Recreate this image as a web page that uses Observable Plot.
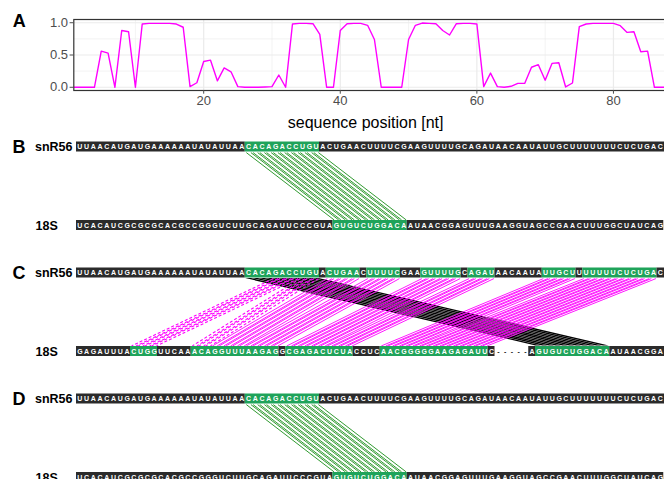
<!DOCTYPE html>
<html><head><meta charset="utf-8">
<script src="https://cdn.jsdelivr.net/npm/d3@7"></script>
<script src="https://cdn.jsdelivr.net/npm/@observablehq/plot@0.6"></script>
<style>
html,body{margin:0;padding:0;background:#fff;}
#wrap{width:664px;height:479px;overflow:hidden;position:relative;}
#wrap svg{display:block;max-width:none !important;}
</style></head><body><div id="wrap"></div>
<script>
// ---------- Panel A: reactivity profile (positions 1..88) ----------
const reactivity = [
  0, 0, 0, 0, 0.56, 0.53, 0, 0.88, 0.86, 0,            // 1-10
  0.98, 0.99, 0.99, 0.99, 0.99, 0.98, 0.93, 0.01, 0.07, 0.40, // 11-20
  0.42, 0.10, 0.30, 0.24, 0.01, 0, 0, 0, 0.005, 0.01,  // 21-30
  0.19, 0, 0.98, 0.99, 0.99, 0.985, 0.82, 0, 0, 0.88,  // 31-40
  0.985, 0.99, 0.99, 0.96, 0.74, 0, 0, 0, 0, 0.74,     // 41-50
  0.96, 0.995, 0.99, 0.985, 0.88, 0.81, 0.985, 0.99, 0.99, 0.98, // 51-60
  0.01, 0.22, 0.01, 0, 0.015, 0.06, 0.06, 0.31, 0.35, 0.11,     // 61-70
  0.37, 0.38, 0.005, 0.066, 0.94, 0.98, 0.99, 0.99, 0.99, 0.99, // 71-80
  0.955, 0.85, 0.86, 0.55, 0.56, 0, 0, 0                // 81-88
];
const xTicksA = [20, 40, 60, 80];
const xMinorA = [10, 30, 50, 70];
const yTicksA = [0, 0.5, 1];
const yMinorA = [0.25, 0.75];
const xTitleA = "sequence position [nt]";

// ---------- Sequences ----------
const seqSnR56 = "UUAACAUGAUGAAAAAAUAUAUUAACACAGACCUGUACUGAACUUUUCGAAGUUUUGCAGAUAACAAUAUUGCUUUUUUUCUCUGACU";
const seq18S_BD = "UCACAUCGCGCGCACGCCGGGUCUUGCAGAUUCCCGUAGUGUCUGGACAAUAACGGAGUUUGAAGGUAGCCGAACUUUGGCUAUCAG";
const seq18S_C  = "GAGAUUUACUGGUUCAAACAGGUUUAAGAGGCGAGACUCUACCUCAACGGGGGAAGAGAUUC-----AGUGUCUGGACAAUAACGGAG";
const rowNames = ["snR56", "18S"];

// helices: snR56 start, 18S start, length, kind
const helicesB = [
  {snr: 26, rrna: 39, len: 11, kind: "target"}
];
const helicesC = [
  {snr: 26, rrna: 69, len: 11, kind: "blocked"},
  {snr: 30, rrna: 9,  len: 4,  kind: "altDashed"},
  {snr: 34, rrna: 18, len: 3,  kind: "altDashed"},
  {snr: 38, rrna: 21, len: 5,  kind: "alt"},
  {snr: 44, rrna: 26, len: 5,  kind: "alt"},
  {snr: 52, rrna: 32, len: 6,  kind: "alt"},
  {snr: 59, rrna: 38, len: 4,  kind: "alt"},
  {snr: 70, rrna: 46, len: 5,  kind: "alt"},
  {snr: 76, rrna: 51, len: 11, kind: "alt"}
];
const helicesD = helicesB;

const FONT = "Liberation Sans, Arial, Helvetica, sans-serif";
const GREEN_BOX = "#1fa35a";
const DARK_BOX = "#2b2b2b";
const kindStroke = {target: "#1a8f1a", alt: "#ff00ff", altDashed: "#ff00ff", blocked: "#000"};
const CHAR_W = 6.75, SEQ_LEFT = 76, SVG_W = 690;

const wrap = document.getElementById("wrap");

// ---------- Panel A ----------
const dataA = reactivity.map((v, i) => ({pos: i + 1, v}));
const plotA = Plot.plot({
  width: SVG_W, height: 135,
  marginLeft: 73.3, marginRight: SVG_W - 671, marginTop: 19, marginBottom: 45,
  style: {fontFamily: FONT, background: "white"},
  x: {domain: [0.98, 88.5]},
  y: {domain: [-0.05, 1.05]},
  marks: [
    Plot.ruleX(xMinorA, {stroke: "#ebebeb", strokeWidth: 0.6}),
    Plot.ruleY(yMinorA, {stroke: "#ebebeb", strokeWidth: 0.6}),
    Plot.ruleX(xTicksA, {stroke: "#ebebeb", strokeWidth: 1.2}),
    Plot.ruleY(yTicksA, {stroke: "#ebebeb", strokeWidth: 1.2}),
    Plot.line(dataA, {x: "pos", y: "v", stroke: "#ff00ff", strokeWidth: 1.4}),
    Plot.frame({stroke: "#333333", strokeWidth: 1.2}),
    Plot.axisX(xTicksA, {tickSize: 3.7, tickPadding: 2, fontSize: 13, color: "#4d4d4d", label: null}),
    Plot.axisY(yTicksA, {tickSize: 3.7, tickPadding: 2, fontSize: 13, color: "#4d4d4d", label: null, tickFormat: d3.format(".1f")}),
    Plot.text([xTitleA], {frameAnchor: "bottom", dx: -7, dy: 37, fontSize: 16, fill: "black"}),
    Plot.text(["A"], {frameAnchor: "top-left", dx: -61, dy: -5, textAnchor: "start", fontSize: 18, fontWeight: "bold", fill: "black"})
  ]
});
wrap.appendChild(plotA);

// ---------- Sequence panels ----------
function seqPanel(letter, topSeq, botSeq, helices) {
  const half = 5 / 78.5;      // half box height in row units
  const gapY = 5.6 / 78.5;    // link end offset
  const ins = 0.16;           // inset of each outlined band (nt units)
  const insFill = 0.07;       // inset of each filled band
  const pairedTop = new Set(), pairedBot = new Set();
  for (const h of helices) for (let k = 0; k < h.len; k++) { pairedTop.add(h.snr + k); pairedBot.add(h.rrna + k); }
  const chars = [];
  const addRow = (seq, row, set) => {
    [...seq].forEach((ch, i) => chars.push({row, pos: i + 1, ch, paired: set.has(i + 1), gap: ch === "-"}));
  };
  addRow(topSeq, 0, pairedTop);
  addRow(botSeq, 1, pairedBot);
  const runs = [];
  for (const c of chars) {
    if (c.gap) continue;
    const last = runs[runs.length - 1];
    if (last && last.row === c.row && last.paired === c.paired && last.end === c.pos - 1) last.end = c.pos;
    else runs.push({row: c.row, start: c.pos, end: c.pos, paired: c.paired});
  }
  const links = [], polys = [];
  let id = 0;
  for (const h of helices) {
    for (let k = 0; k < h.len; k++) {
      const i = h.snr + k, j = h.rrna + k;
      id++;
      if (h.kind === "blocked") {
        polys.push({id, y: gapY, xa: i - 0.5 + insFill, xb: i + 0.5 - insFill});
        polys.push({id, y: 1 - gapY, xa: j - 0.5 + insFill, xb: j + 0.5 - insFill});
      } else {
        links.push({kind: h.kind, xa: i - 0.5 + ins, xb: j - 0.5 + ins});
        links.push({kind: h.kind, xa: i + 0.5 - ins, xb: j + 0.5 - ins});
      }
    }
  }
  const solid = links.filter(d => d.kind !== "altDashed");
  const dashed = links.filter(d => d.kind === "altDashed");
  return Plot.plot({
    width: SVG_W, height: 126,
    marginLeft: SEQ_LEFT, marginRight: 0, marginTop: 0, marginBottom: 0,
    style: {fontFamily: FONT, background: "white"},
    x: {domain: [0.5, 0.5 + (SVG_W - SEQ_LEFT) / CHAR_W], axis: null},
    y: {domain: [0, 1], range: [11.5, 90], axis: null},
    marks: [
      Plot.areaX(polys, {y: "y", x1: "xa", x2: "xb", z: "id", fill: "black"}),
      Plot.link(solid, {x1: "xa", x2: "xb", y1: gapY, y2: 1 - gapY, stroke: d => kindStroke[d.kind], strokeWidth: 0.9}),
      Plot.link(dashed, {x1: "xa", x2: "xb", y1: gapY, y2: 1 - gapY, stroke: d => kindStroke[d.kind], strokeWidth: 1.1, strokeDasharray: "3,2"}),
      Plot.rect(runs, {x1: d => d.start - 0.5, x2: d => d.end + 0.5, y1: d => d.row - half, y2: d => d.row + half,
        fill: d => d.paired ? GREEN_BOX : DARK_BOX}),
      Plot.text(chars, {x: "pos", y: "row", text: "ch", fill: d => d.gap ? "#222" : "white",
        fontSize: 7, fontWeight: "bold"}),
      Plot.text([{name: rowNames[0], row: 0}], {y: "row", text: "name", frameAnchor: "left", dx: -4, textAnchor: "end",
        fontSize: 12.5, fontWeight: "bold", fill: "black"}),
      Plot.text([{name: rowNames[1], row: 1}], {y: "row", text: "name", frameAnchor: "left", dx: -41, textAnchor: "start",
        fontSize: 12.5, fontWeight: "bold", fill: "black"}),
      Plot.text([{name: letter, row: 0}], {y: "row", text: "name", frameAnchor: "left", dx: -64, textAnchor: "start",
        fontSize: 18, fontWeight: "bold", fill: "black"})
    ]
  });
}

wrap.appendChild(seqPanel("B", seqSnR56, seq18S_BD, helicesB));
wrap.appendChild(seqPanel("C", seqSnR56, seq18S_C, helicesC));
wrap.appendChild(seqPanel("D", seqSnR56, seq18S_BD, helicesD));
</script>
</body></html>
